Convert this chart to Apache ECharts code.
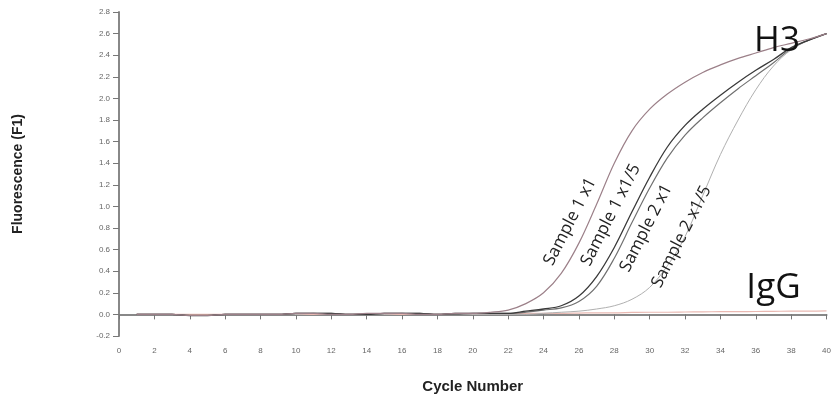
<!DOCTYPE html>
<html>
<head>
<meta charset="utf-8">
<script src="https://cdn.jsdelivr.net/npm/echarts@6/dist/echarts.min.js"></script>
<style>
    html, body { margin: 0; padding: 0; background: #fff; }
    #chart { width: 834px; height: 403px; }
</style>
</head>
<body>
<div id="chart"></div>
<script>
// cycle numbers 1..40
var cycles = [1,2,3,4,5,6,7,8,9,10,11,12,13,14,15,16,17,18,19,20,21,22,23,24,25,26,27,28,29,30,31,32,33,34,35,36,37,38,39,40];

var sample1x1 = [0,0,0,-0.01,-0.01,0,0,0,0,0.01,0.01,0,0,0.01,0.01,0.01,0,0,0.01,0.01,
    0.02,0.04,0.1,0.2,0.38,0.66,1.02,1.4,1.7,1.9,2.04,2.15,2.24,2.31,2.37,2.42,2.47,2.51,2.55,2.6];
var sample1x1_5 = [0,0,0,-0.01,-0.01,0,0,0,0,0.01,0.01,0.01,0,0,0.01,0.01,0.01,0,0.01,0.01,
    0.01,0.01,0.03,0.05,0.08,0.17,0.35,0.62,0.95,1.27,1.55,1.75,1.9,2.03,2.15,2.26,2.36,2.47,2.54,2.6];
var sample2x1 = [0,0,0,-0.01,-0.01,0,0,0,0,0.01,0.01,0.01,0,0,0.01,0.01,0.01,0,0,0.01,
    0.01,0.01,0.02,0.04,0.06,0.12,0.26,0.52,0.85,1.17,1.45,1.66,1.82,1.96,2.09,2.21,2.33,2.46,2.54,2.6];
var sample2x1_5 = [0,0,0,-0.01,-0.01,0,0,0,0,0,0.01,0,0,0,0,0.01,0,0,0,0,
    0,0,0,0.01,0.02,0.03,0.05,0.08,0.14,0.25,0.45,0.72,1.1,1.48,1.8,2.08,2.3,2.45,2.54,2.6];
var igg = [0,0,0,0,0,0,0,0,0,0,0,0,0,0,0,0,0,0,0,0,
    0.005,0.005,0.01,0.01,0.01,0.012,0.015,0.015,0.018,0.02,0.02,0.022,0.024,0.025,0.026,0.027,0.028,0.03,0.03,0.032];

// curve labels: text, anchor [cycle, value]
var curveLabels = [
    { text: 'Sample 1 x1', at: [25.5, 0.86] },
    { text: 'Sample 1 x1/5', at: [27.8, 0.92] },
    { text: 'Sample 2 x1', at: [29.8, 0.8] },
    { text: 'Sample 2 x1/5', at: [31.8, 0.72] }
];

function pairs(vals) {
    return cycles.map(function (c, i) { return [c, vals[i]]; });
}

function line(name, vals, color, width) {
    return {
        name: name,
        type: 'line',
        data: pairs(vals),
        smooth: 0.35,
        showSymbol: false,
        lineStyle: { color: color, width: width },
        z: 2
    };
}

var myChart = echarts.init(document.getElementById('chart'));

var option = {
    backgroundColor: '#fff',
    animation: false,
    grid: { left: 119, right: 5, top: 12, bottom: 67 },
    xAxis: {
        type: 'value',
        min: 0,
        max: 40,
        interval: 2,
        name: 'Cycle Number',
        nameLocation: 'middle',
        nameGap: 43,
        nameTextStyle: { fontFamily: 'Liberation Sans', fontWeight: 'bold', fontSize: 15, color: '#222' },
        axisLine: { lineStyle: { color: '#888', width: 2 } },
        axisTick: { length: 5, lineStyle: { color: '#777' } },
        axisLabel: { color: '#666', fontSize: 8, fontFamily: 'Liberation Sans', margin: 11 },
        splitLine: { show: false }
    },
    yAxis: {
        type: 'value',
        min: -0.2,
        max: 2.8,
        interval: 0.2,
        name: 'Fluorescence (F1)',
        nameLocation: 'middle',
        nameGap: 94,
        nameTextStyle: { fontFamily: 'Liberation Sans', fontWeight: 'bold', fontSize: 14, color: '#222' },
        axisLine: { show: true, lineStyle: { color: '#888', width: 2 } },
        axisTick: { show: true, length: 6, lineStyle: { color: '#777' } },
        axisLabel: {
            color: '#666', fontSize: 8, fontFamily: 'Liberation Sans', margin: 9,
            formatter: function (v) { return v.toFixed(1); }
        },
        splitLine: { show: false }
    },
    series: [
        line('IgG', igg, '#e9b9b2', 1.2),
        line('Sample 2 x1/5', sample2x1_5, '#b0b0b0', 1),
        line('Sample 2 x1', sample2x1, '#707070', 1.2),
        line('Sample 1 x1/5', sample1x1_5, '#3a3a3a', 1.3),
        line('Sample 1 x1', sample1x1, '#9c8089', 1.2)
    ]
};
myChart.setOption(option);

// place the rotated labels from data coordinates
var texts = curveLabels.map(function (l) {
    var p = myChart.convertToPixel({ gridIndex: 0 }, l.at);
    return {
        type: 'text',
        x: p[0], y: p[1],
        rotation: 63 * Math.PI / 180,
        style: {
            text: l.text, fill: '#222', fontSize: 17,
            fontFamily: 'Open Sans', align: 'center', verticalAlign: 'middle'
        },
        z: 10
    };
});
var hp = myChart.convertToPixel({ gridIndex: 0 }, [37.2, 2.53]);
var ip = myChart.convertToPixel({ gridIndex: 0 }, [37.0, 0.24]);
texts.push({
    type: 'text', x: hp[0], y: hp[1],
    style: { text: 'H3', fill: '#111', fontSize: 35, fontFamily: 'Open Sans', align: 'center', verticalAlign: 'middle' },
    z: 10
});
texts.push({
    type: 'text', x: ip[0], y: ip[1],
    style: { text: 'IgG', fill: '#111', fontSize: 35, fontFamily: 'Open Sans', align: 'center', verticalAlign: 'middle' },
    z: 10
});
myChart.setOption({ graphic: texts });
</script>
</body>
</html>
